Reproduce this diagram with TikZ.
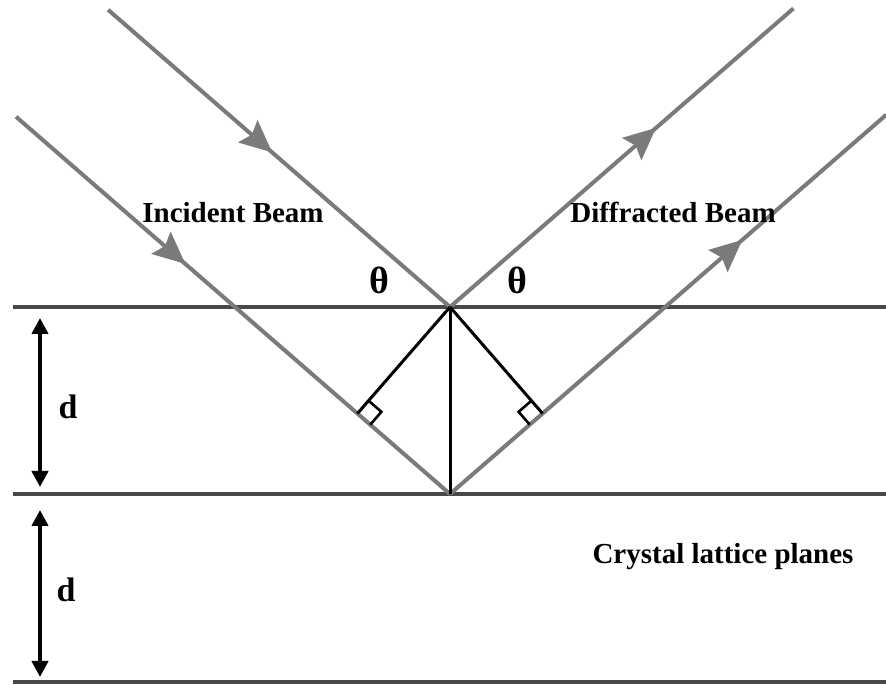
\documentclass[tikz,border=0pt]{standalone}
\usepackage{fontspec}
\setmainfont{Liberation Serif}
\usepackage{xcolor}
\usepackage{tikz}
\usetikzlibrary{arrows.meta,calc,decorations.markings}
\definecolor{beamgray}{HTML}{7A7A7A}
\definecolor{planegray}{HTML}{484848}

\begin{document}
\begin{tikzpicture}[x=1pt, y=1pt,
  every node/.style={font=\bfseries\fontsize{29}{34}\selectfont, text=black},
  beam/.style={draw=beamgray, line width=4pt},
  plane/.style={draw=planegray, line width=4.5pt},
  perpline/.style={draw=black, line width=3pt},
  darrow/.style={{Triangle[length=16pt, width=16pt]}-{Triangle[length=16pt, width=16pt]}, draw=black, line width=4pt},
  midarrow/.style={postaction={decorate}, decoration={markings, mark=at position #1 with {\arrow{Stealth[length=32pt, width=29pt, inset=5pt, color=beamgray]}}}}]
  \useasboundingbox (0,0) rectangle (886,685);
  \fill[white] (0,0) rectangle (886,685);
  \coordinate (top) at (450,378);
  \coordinate (bot) at (450,191);
  \coordinate (inA) at ($(top)+(139:453)$);
  \coordinate (inB) at ($(bot)+(139:575)$);
  \coordinate (outA) at ($(top)+(41:455)$);
  \coordinate (outB) at ($(bot)+(41:578)$);
  \draw[plane] (13,378) -- (886,378);
  \draw[plane] (13,191) -- (886,191);
  \draw[plane] (13,3) -- (886,3);
  \draw[beam, midarrow=0.48] (inA) -- (top);
  \draw[beam, midarrow=0.39] (inB) -- (bot);
  \draw[beam, midarrow=0.60] (top) -- (outA);
  \draw[beam, midarrow=0.67] (bot) -- (outB);
  \coordinate (footA) at ($(bot)!(top)!(inB)$);
  \coordinate (footB) at ($(bot)!(top)!(outB)$);
  \draw[perpline] (top) -- (footA);
  \draw[perpline] (top) -- (footB);
  \draw[perpline] (top) -- (bot);
  \coordinate (sqA1) at ($(footA)!17pt!(top)$);
  \coordinate (sqA2) at ($(footA)!17pt!(bot)$);
  \coordinate (sqB1) at ($(footB)!17pt!(top)$);
  \coordinate (sqB2) at ($(footB)!17pt!(bot)$);
  \draw[perpline, line width=2.6pt] (sqA1) -- ($(sqA1)+(sqA2)-(footA)$) -- (sqA2);
  \draw[perpline, line width=2.6pt] (sqB1) -- ($(sqB1)+(sqB2)-(footB)$) -- (sqB2);
  \coordinate (dA1) at (40,367);
  \coordinate (dA2) at (40,198);
  \coordinate (dB1) at (40,175);
  \coordinate (dB2) at (40,8);
  \draw[darrow] (dA1) -- (dA2);
  \draw[darrow] (dB1) -- (dB2);
  \node[font=\bfseries\fontsize{34}{38}\selectfont] (dlabA) at (68,278) {d};
  \node[font=\bfseries\fontsize{34}{38}\selectfont] (dlabB) at (66,95) {d};
  \node[font=\bfseries\fontsize{38}{42}\selectfont] (thetaA) at (379,405) {θ};
  \node[font=\bfseries\fontsize{38}{42}\selectfont] (thetaB) at (517,405) {θ};
  \node (incident) at (233,472) {Incident Beam};
  \node (diffracted) at (673,473) {Diffracted Beam};
  \node (crystal) at (723,128) {Crystal lattice planes};
\end{tikzpicture}
\end{document}
